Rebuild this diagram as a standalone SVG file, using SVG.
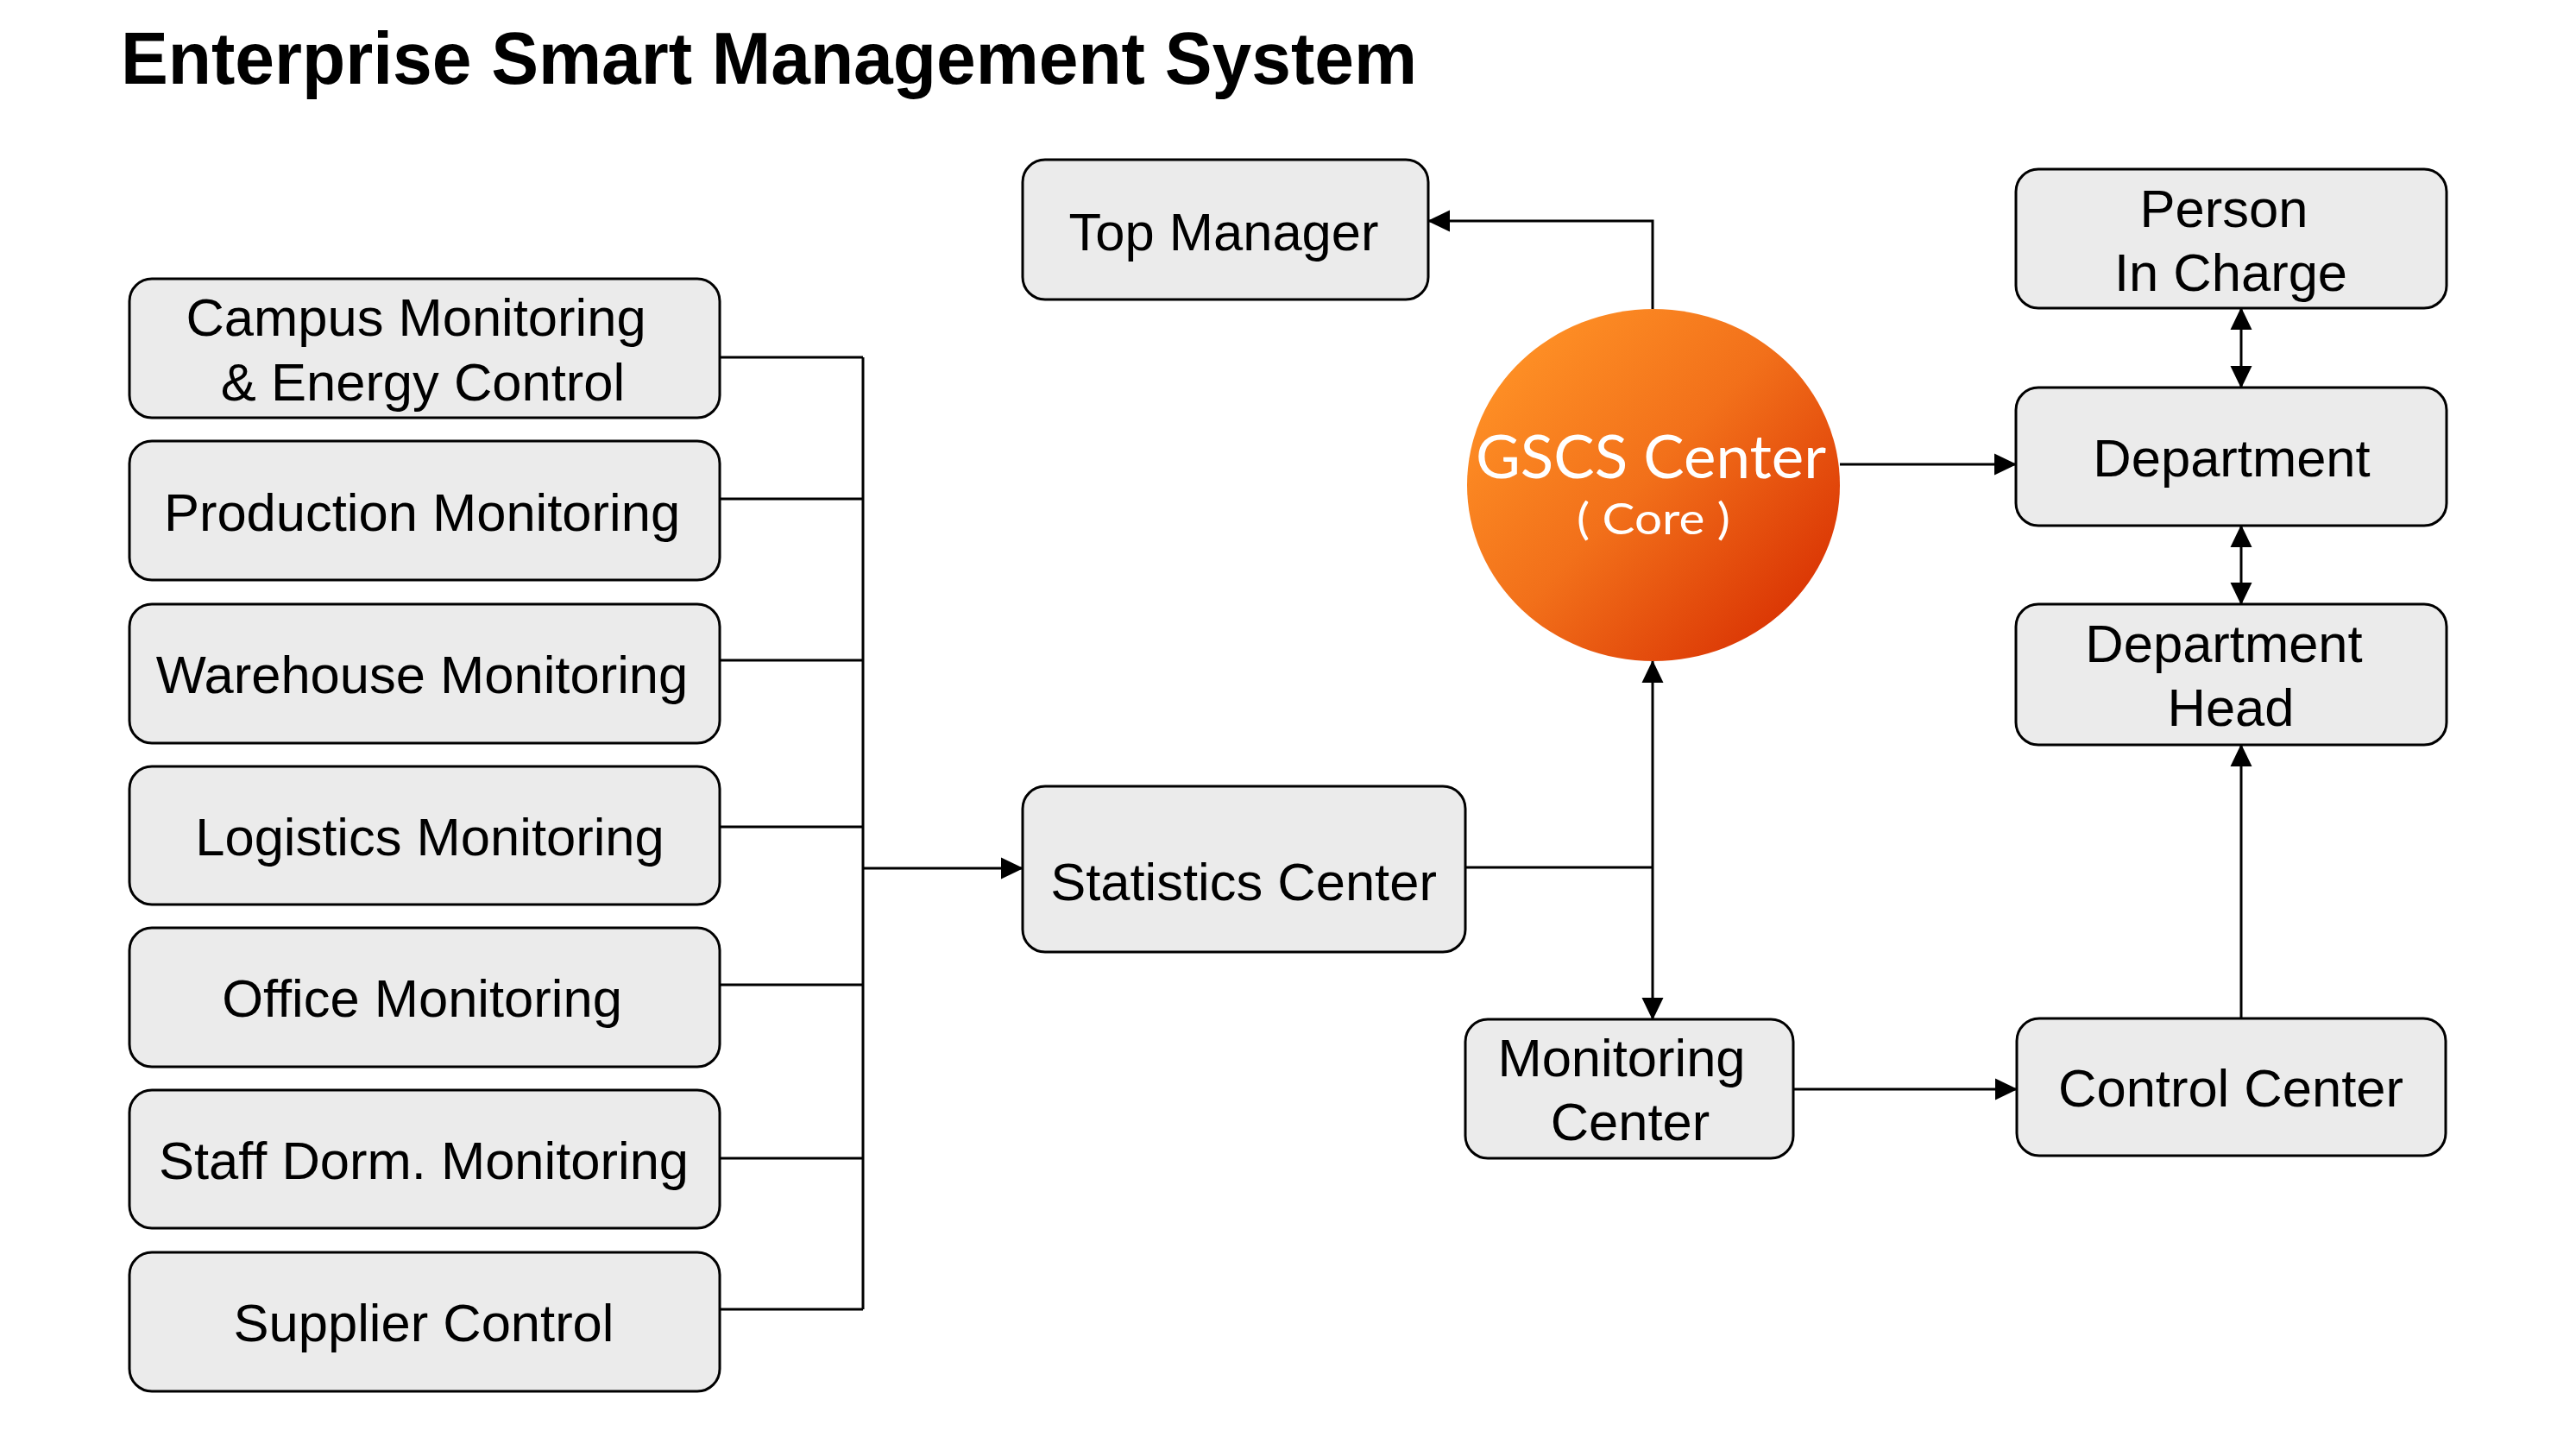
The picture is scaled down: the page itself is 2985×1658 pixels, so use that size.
<svg xmlns="http://www.w3.org/2000/svg" width="2985" height="1658" viewBox="0 0 2985 1658">
<style>
.box{fill:#EBEBEB;stroke:#000;stroke-width:3}
.lbl{font-family:"Liberation Sans",Arial,sans-serif;font-size:61.5px;fill:#000;text-anchor:middle}
.title{font-family:"Liberation Sans",Arial,sans-serif;font-size:85px;font-weight:bold;fill:#000}
.core{font-family:Lato,"Noto Sans",sans-serif;fill:#fff;text-anchor:middle}
.ln{fill:none;stroke:#000;stroke-width:3}
</style>
<defs>
<marker id="ah" markerUnits="userSpaceOnUse" markerWidth="26" markerHeight="26" refX="25" refY="12.5" orient="auto-start-reverse" viewBox="0 0 26 25">
<path d="M0,0 L26,12.5 L0,25 z" fill="#000"/>
</marker>
<linearGradient id="og" x1="0.05" y1="0.15" x2="0.95" y2="0.95">
<stop offset="0" stop-color="#FF9226"/>
<stop offset="0.45" stop-color="#F2701A"/>
<stop offset="1" stop-color="#D62A00"/>
</linearGradient>
</defs>
<rect width="2985" height="1658" fill="#fff"/>
<text class="title" x="140" y="97" textLength="1502" lengthAdjust="spacingAndGlyphs">Enterprise Smart Management System</text>

<g id="connectors">
<path class="ln" d="M834,414 H1000"/>
<path class="ln" d="M834,578 H1000"/>
<path class="ln" d="M834,765 H1000"/>
<path class="ln" d="M834,958 H1000"/>
<path class="ln" d="M834,1141 H1000"/>
<path class="ln" d="M834,1342 H1000"/>
<path class="ln" d="M834,1517 H1000"/>
<path class="ln" d="M1000,414 V1517"/>
<path class="ln" d="M1000,1006 H1185" marker-end="url(#ah)"/>
<path class="ln" d="M1698,1005 H1915"/>
<path class="ln" d="M1915,766 V1181" marker-start="url(#ah)" marker-end="url(#ah)"/>
<path class="ln" d="M1915,358 V256 H1655" marker-end="url(#ah)"/>
<path class="ln" d="M2132,538 H2336" marker-end="url(#ah)"/>
<path class="ln" d="M2597,357 V449" marker-start="url(#ah)" marker-end="url(#ah)"/>
<path class="ln" d="M2597,609 V700" marker-start="url(#ah)" marker-end="url(#ah)"/>
<path class="ln" d="M2078,1262 H2337" marker-end="url(#ah)"/>
<path class="ln" d="M2597,1180 V863" marker-end="url(#ah)"/>
</g>

<g id="campus"><rect class="box" x="150" y="323" width="684" height="161" rx="26"/>
<text class="lbl" x="482" y="389">Campus Monitoring</text><text class="lbl" x="490" y="464">&amp; Energy Control</text></g>
<g id="production"><rect class="box" x="150" y="511" width="684" height="161" rx="26"/>
<text class="lbl" x="489" y="615">Production Monitoring</text></g>
<g id="warehouse"><rect class="box" x="150" y="700" width="684" height="161" rx="26"/>
<text class="lbl" x="489" y="803">Warehouse Monitoring</text></g>
<g id="logistics"><rect class="box" x="150" y="888" width="684" height="160" rx="26"/>
<text class="lbl" x="498" y="991">Logistics Monitoring</text></g>
<g id="office"><rect class="box" x="150" y="1075" width="684" height="161" rx="26"/>
<text class="lbl" x="489" y="1178">Office Monitoring</text></g>
<g id="staff"><rect class="box" x="150" y="1263" width="684" height="160" rx="26"/>
<text class="lbl" x="491" y="1366">Staff Dorm. Monitoring</text></g>
<g id="supplier"><rect class="box" x="150" y="1451" width="684" height="161" rx="26"/>
<text class="lbl" x="491" y="1554">Supplier Control</text></g>

<g id="top-manager"><rect class="box" x="1185" y="185" width="470" height="162" rx="26"/>
<text class="lbl" x="1418" y="290">Top Manager</text></g>
<g id="statistics"><rect class="box" x="1185" y="911" width="513" height="192" rx="26"/>
<text class="lbl" x="1441" y="1043">Statistics Center</text></g>
<g id="monitoring"><rect class="box" x="1698" y="1181" width="380" height="161" rx="26"/>
<text class="lbl" x="1879" y="1247">Monitoring</text><text class="lbl" x="1889" y="1321">Center</text></g>

<g id="gscs"><ellipse cx="1916" cy="562" rx="216" ry="204" fill="url(#og)"/>
<text class="core" x="1913" y="554" font-size="69" textLength="406" lengthAdjust="spacingAndGlyphs">GSCS Center</text>
<text class="core" x="1916" y="619" font-size="50" textLength="178" lengthAdjust="spacingAndGlyphs">( Core )</text></g>

<g id="person"><rect class="box" x="2336" y="196" width="499" height="161" rx="26"/>
<text class="lbl" x="2577" y="263">Person</text><text class="lbl" x="2585" y="337">In Charge</text></g>
<g id="department"><rect class="box" x="2336" y="449" width="499" height="160" rx="26"/>
<text class="lbl" x="2586" y="552">Department</text></g>
<g id="department-head"><rect class="box" x="2336" y="700" width="499" height="163" rx="26"/>
<text class="lbl" x="2577" y="767">Department</text><text class="lbl" x="2585" y="841">Head</text></g>
<g id="control"><rect class="box" x="2337" y="1180" width="497" height="159" rx="26"/>
<text class="lbl" x="2585" y="1282">Control Center</text></g>
</svg>
